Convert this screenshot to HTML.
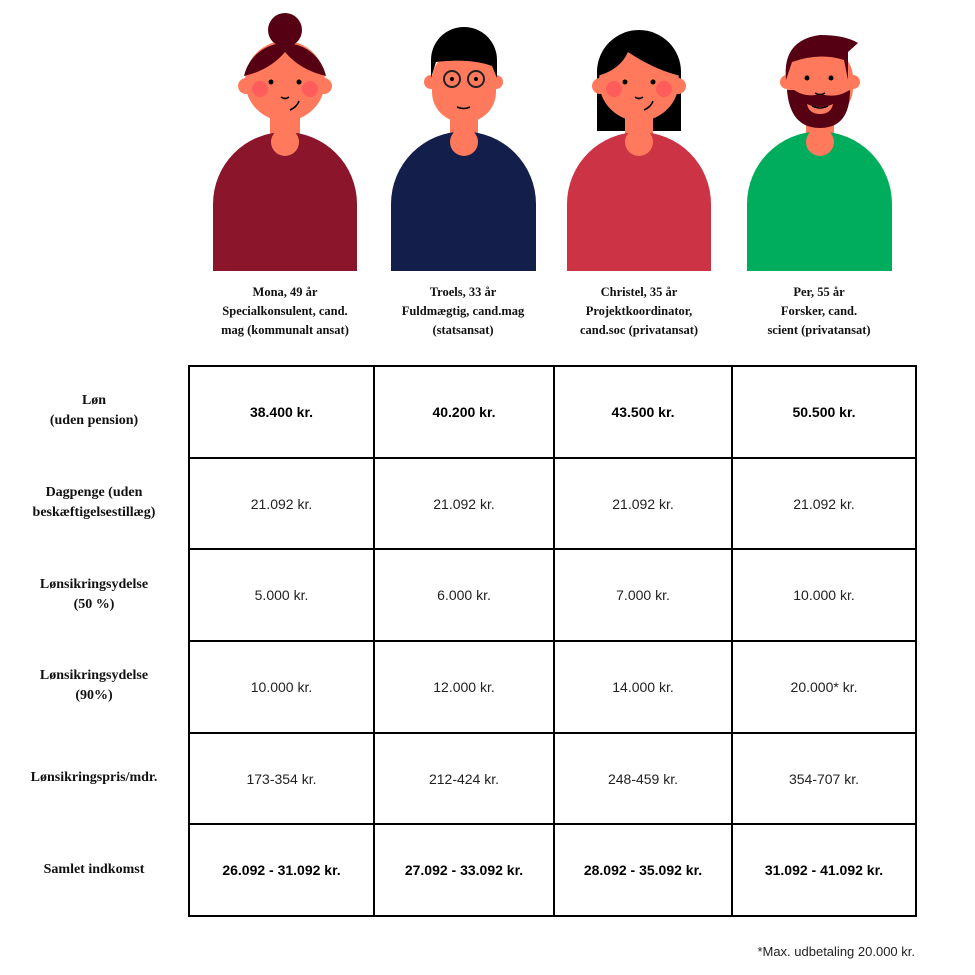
<!DOCTYPE html>
<html><head><meta charset="utf-8"><style>
body{margin:0;width:975px;height:975px;background:#fff;position:relative;overflow:hidden}
.cap{position:absolute;top:283px;width:190px;text-align:center;font:bold 12.5px/19px "Liberation Serif",serif;color:#111}
.rl{position:absolute;left:0;width:188px;text-align:center;font:bold 14px/20px "Liberation Serif",serif;color:#111;display:flex;align-items:center;justify-content:center}
table{position:absolute;left:188px;top:365px;border-collapse:collapse}
td{border:2px solid #000;height:89.7px;text-align:center;font:14px "Liberation Sans",sans-serif;color:#222;padding:0}
tr.b td{font-weight:bold;color:#000}
.note{position:absolute;right:60px;top:944px;font:13px "Liberation Sans",sans-serif;color:#222}
</style></head><body>
<svg width="975" height="280" style="position:absolute;left:0;top:0">
<g>
<rect x="270" y="118" width="30" height="30" fill="#ff7a5c"/>
<path d="M213 271V204a72 72 0 0 1 144 0V271Z" fill="#8b152b"/>
<circle cx="285" cy="142" r="14" fill="#ff7a5c"/>
<circle cx="246" cy="86" r="8" fill="#ff7a5c"/><circle cx="324" cy="86" r="8" fill="#ff7a5c"/>
<circle cx="285" cy="81" r="40" fill="#ff7a5c"/>
<circle cx="285" cy="30" r="17" fill="#560014"/>
<path d="M244 76a42 42 0 0 1 82 0Q300 70 285 52Q270 70 244 76Z" fill="#560014"/>
<circle cx="260" cy="89" r="8" fill="#ff5c5c"/><circle cx="310" cy="89" r="8" fill="#ff5c5c"/>
<circle cx="271" cy="82" r="2.5"/><circle cx="299" cy="82" r="2.5"/>
<path d="M281 97q4 3 8 0M290 110q7-3 9-9" stroke="#000" stroke-width="1.6" fill="none"/>
</g>
<g>
<rect x="450" y="118" width="28" height="30" fill="#ff7a5c"/>
<path d="M391 271V204a72 72 0 0 1 145 0V271Z" fill="#141e4b"/>
<circle cx="464" cy="142" r="14" fill="#ff7a5c"/>
<circle cx="431" cy="82" r="7" fill="#ff7a5c"/><circle cx="496" cy="82" r="7" fill="#ff7a5c"/>
<rect x="432" y="50" width="64" height="72" rx="30" fill="#ff7a5c"/>
<path d="M431 78V60a33 33 0 0 1 66 0V78L492 66Q470 58 436 62Z" fill="#000"/>
<circle cx="452" cy="79" r="8" fill="none" stroke="#222" stroke-width="2"/><circle cx="476" cy="79" r="8" fill="none" stroke="#222" stroke-width="2"/>
<circle cx="452" cy="79" r="2"/><circle cx="476" cy="79" r="2"/>
<path d="M457 107q7 3 13 0" stroke="#000" stroke-width="1.6" fill="none"/>
</g>
<g>
<path d="M597 72a42 42 0 0 1 84 0V131H597Z" fill="#000"/>
<rect x="625" y="118" width="28" height="30" fill="#ff7a5c"/>
<path d="M567 271V204a72 72 0 0 1 144 0V271Z" fill="#cc3345"/>
<circle cx="639" cy="142" r="14" fill="#ff7a5c"/>
<circle cx="600" cy="86" r="8" fill="#ff7a5c"/><circle cx="678" cy="86" r="8" fill="#ff7a5c"/>
<circle cx="639" cy="81" r="40" fill="#ff7a5c"/>
<path d="M597 76a42 42 0 0 1 84 0Q655 70 628 52Q620 70 597 76Z" fill="#000"/>
<circle cx="614" cy="89" r="8" fill="#ff5c5c"/><circle cx="664" cy="89" r="8" fill="#ff5c5c"/>
<circle cx="625" cy="82" r="2.5"/><circle cx="653" cy="82" r="2.5"/>
<path d="M635 97q4 3 8 0M644 110q7-3 9-9" stroke="#000" stroke-width="1.6" fill="none"/>
</g>
<g>
<rect x="806" y="118" width="28" height="30" fill="#ff7a5c"/>
<path d="M747 271V204a72 72 0 0 1 145 0V271Z" fill="#00ad5c"/>
<circle cx="820" cy="142" r="14" fill="#ff7a5c"/>
<circle cx="787" cy="82" r="7" fill="#ff7a5c"/><circle cx="853" cy="82" r="7" fill="#ff7a5c"/>
<rect x="787" y="48" width="66" height="70" rx="30" fill="#ff7a5c"/>
<path d="M787 90Q790 128 820 128Q850 128 850 90L846 92Q836 98 820 94Q806 98 794 90Z" fill="#560014"/>
<path d="M786 80Q782 40 820 35Q845 35 858 43L848 52V80L844 60Q820 52 792 62Z" fill="#560014"/>
<path d="M807 104q13 6 26 0q-2 10-13 10q-11 0-13-10Z" fill="#ff7a5c"/>
<circle cx="807" cy="78" r="2.5"/><circle cx="831" cy="78" r="2.5"/>
<path d="M815 93q5 3 10 0M812 106q8 4 16 0" stroke="#000" stroke-width="1.4" fill="none"/>
</g>
</svg>
<div class="cap" style="left:190px">Mona, 49 år<br>Specialkonsulent, cand.<br>mag (kommunalt ansat)</div>
<div class="cap" style="left:368px">Troels, 33 år<br>Fuldmægtig, cand.mag<br>(statsansat)</div>
<div class="cap" style="left:544px">Christel, 35 år<br>Projektkoordinator,<br>cand.soc (privatansat)</div>
<div class="cap" style="left:724px">Per, 55 år<br>Forsker, cand.<br>scient (privatansat)</div>

<div class="rl" style="top:365px;height:92px">Løn<br>(uden pension)</div>
<div class="rl" style="top:457px;height:92px">Dagpenge (uden<br>beskæftigelsestillæg)</div>
<div class="rl" style="top:549px;height:92px">Lønsikringsydelse<br>(50 %)</div>
<div class="rl" style="top:640px;height:92px">Lønsikringsydelse<br>(90%)</div>
<div class="rl" style="top:732px;height:92px">Lønsikringspris/mdr.</div>
<div class="rl" style="top:824px;height:92px">Samlet indkomst</div>

<table>
<colgroup><col style="width:185px"><col style="width:180px"><col style="width:178px"><col style="width:184px"></colgroup>
<tr class="b"><td>38.400 kr.</td><td>40.200 kr.</td><td>43.500 kr.</td><td>50.500 kr.</td></tr>
<tr><td>21.092 kr.</td><td>21.092 kr.</td><td>21.092 kr.</td><td>21.092 kr.</td></tr>
<tr><td>5.000 kr.</td><td>6.000 kr.</td><td>7.000 kr.</td><td>10.000 kr.</td></tr>
<tr><td>10.000 kr.</td><td>12.000 kr.</td><td>14.000 kr.</td><td>20.000* kr.</td></tr>
<tr><td>173-354 kr.</td><td>212-424 kr.</td><td>248-459 kr.</td><td>354-707 kr.</td></tr>
<tr class="b"><td>26.092 - 31.092 kr.</td><td>27.092 - 33.092 kr.</td><td>28.092 - 35.092 kr.</td><td>31.092 - 41.092 kr.</td></tr>
</table>
<div class="note">*Max. udbetaling 20.000 kr.</div>
</body></html>
